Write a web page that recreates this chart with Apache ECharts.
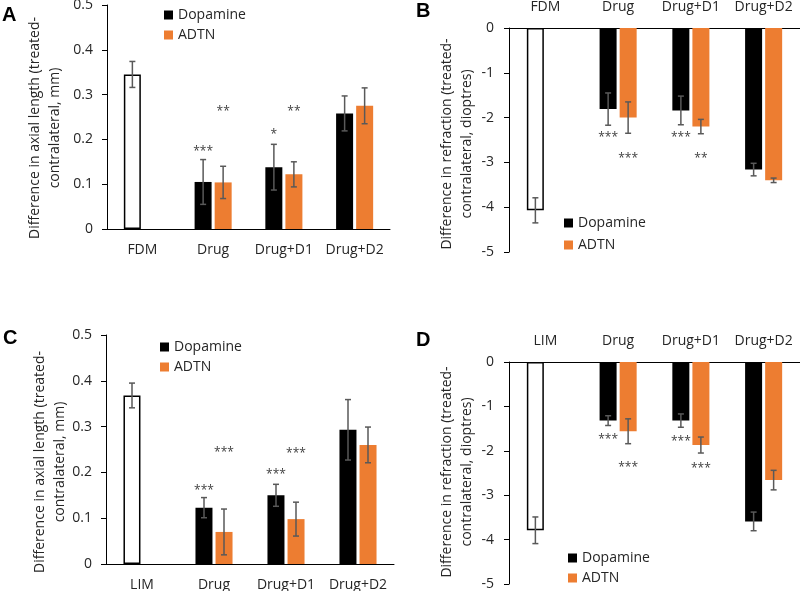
<!DOCTYPE html>
<html>
<head>
<meta charset="utf-8">
<script src="https://cdn.jsdelivr.net/npm/echarts@6/dist/echarts.min.js"></script>
<style>html,body{margin:0;padding:0;background:#fff;}#c{width:800px;height:591px;}</style>
</head>
<body>
<div id="c"></div>
<script>
// ---------- DATA ----------
// First entry of each "dop" array is the control group (FDM / LIM), drawn as a white bar.
const catsA = ['FDM', 'Drug', 'Drug+D1', 'Drug+D2'];
const dopA = [0.345, 0.105, 0.138, 0.258];
const dopErrA = [0.029, 0.050, 0.051, 0.039];
const adtnA = [null, 0.104, 0.122, 0.275];
const adtnErrA = [null, 0.036, 0.028, 0.040];
const dopSigA = ['', '***', '*', ''];
const dopSigAtA = [null, 0.180, 0.217, null];
const adtnSigA = ['', '**', '**', ''];
const adtnSigAtA = [null, 0.268, 0.268, null];

const catsB = ['FDM', 'Drug', 'Drug+D1', 'Drug+D2'];
const dopB = [-4.07, -1.81, -1.84, -3.16];
const dopErrB = [0.28, 0.36, 0.32, 0.14];
const adtnB = [null, -2.00, -2.20, -3.40];
const adtnErrB = [null, 0.35, 0.16, 0.05];
const dopSigB = ['', '***', '***', ''];
const dopSigAtB = [null, -2.39, -2.39, null];
const adtnSigB = ['', '***', '**', ''];
const adtnSigAtB = [null, -2.85, -2.85, null];

const catsC = ['LIM', 'Drug', 'Drug+D1', 'Drug+D2'];
const dopC = [0.368, 0.123, 0.150, 0.293];
const dopErrC = [0.027, 0.022, 0.024, 0.066];
const adtnC = [null, 0.070, 0.098, 0.260];
const adtnErrC = [null, 0.050, 0.037, 0.039];
const dopSigC = ['', '***', '***', ''];
const dopSigAtC = [null, 0.166, 0.201, null];
const adtnSigC = ['', '***', '***', ''];
const adtnSigAtC = [null, 0.250, 0.247, null];

const catsD = ['LIM', 'Drug', 'Drug+D1', 'Drug+D2'];
const dopD = [-3.79, -1.32, -1.32, -3.59];
const dopErrD = [0.30, 0.11, 0.15, 0.21];
const adtnD = [null, -1.56, -1.87, -2.66];
const adtnErrD = [null, 0.28, 0.18, 0.22];
const dopSigD = ['', '***', '***', ''];
const dopSigAtD = [null, -1.68, -1.72, null];
const adtnSigD = ['', '***', '***', ''];
const adtnSigAtD = [null, -2.32, -2.34, null];

const axialTicks = [0, 0.5, 0.1];      // min, max, interval
const refrTicks = [-5, 0, 1];
const axialTitle = 'Difference in axial length (treated-\ncontralateral, mm)';
const refrTitle = 'Difference in refraction (treated-\ncontralateral, dioptres)';

// ---------- STYLE ----------
const FONT = 'Open Sans';
const TXT = '#262626';
const ORANGE = '#ED7D31';
const ERR = '#595959';
const BW = 17, OFF = 10;

const chart = echarts.init(document.getElementById('c'), null, {renderer: 'canvas'});

const panels = [
  {cats: catsA, dop: dopA, dopErr: dopErrA, adtn: adtnA, adtnErr: adtnErrA,
   dSig: dopSigA, dSigAt: dopSigAtA, aSig: adtnSigA, aSigAt: adtnSigAtA, ticks: axialTicks,
   grid: {left: 107, top: 5, width: 283, height: 224}, top: false, lblMargin: 14,
   legend: {left: 164, top: 5, lh: 20}},
  {cats: catsB, dop: dopB, dopErr: dopErrB, adtn: adtnB, adtnErr: adtnErrB,
   dSig: dopSigB, dSigAt: dopSigAtB, aSig: adtnSigB, aSigAt: adtnSigAtB, ticks: refrTicks,
   grid: {left: 509, top: 28, width: 291, height: 224}, top: true, lblMargin: 15,
   legend: {left: 564, top: 212, lh: 22}},
  {cats: catsC, dop: dopC, dopErr: dopErrC, adtn: adtnC, adtnErr: adtnErrC,
   dSig: dopSigC, dSigAt: dopSigAtC, aSig: adtnSigC, aSigAt: adtnSigAtC, ticks: axialTicks,
   grid: {left: 106, top: 335, width: 288, height: 229}, top: false, lblMargin: 14,
   legend: {left: 160, top: 337, lh: 20}},
  {cats: catsD, dop: dopD, dopErr: dopErrD, adtn: adtnD, adtnErr: adtnErrD,
   dSig: dopSigD, dSigAt: dopSigAtD, aSig: adtnSigD, aSigAt: adtnSigAtD, ticks: refrTicks,
   grid: {left: 509, top: 362, width: 291, height: 222}, top: true, lblMargin: 15,
   legend: {left: 568, top: 548, lh: 20}}
];

const grids = [], xAxes = [], yAxes = [], series = [], legends = [];

function errSeries(i, vals, errs, side) {
  const data = [];
  vals.forEach((v, k) => { if (v !== null) data.push([k, v, errs[k]]); });
  return {
    type: 'custom', name: 'err' + i + side, xAxisIndex: i, yAxisIndex: i, z: 5,
    silent: true, data: data,
    renderItem: function (params, api) {
      const k = api.value(0), v = api.value(1), e = api.value(2);
      const x = api.coord([k, v])[0] + side * OFF;
      const y1 = api.coord([k, v + e])[1];
      const y2 = api.coord([k, v - e])[1];
      const st = {stroke: ERR, lineWidth: 1.5};
      return {type: 'group', children: [
        {type: 'line', shape: {x1: x, y1: y1, x2: x, y2: y2}, style: st},
        {type: 'line', shape: {x1: x - 3, y1: y1, x2: x + 3, y2: y1}, style: st},
        {type: 'line', shape: {x1: x - 3, y1: y2, x2: x + 3, y2: y2}, style: st}
      ]};
    }
  };
}

function sigSeries(i, labels, at, side) {
  const data = [];
  labels.forEach((s, k) => { if (s) data.push([k, at[k], s]); });
  return {
    type: 'custom', name: 'sig' + i + side, xAxisIndex: i, yAxisIndex: i, z: 6,
    silent: true, data: data,
    renderItem: function (params, api) {
      const k = api.value(0), v = api.value(1);
      const p = api.coord([k, v]);
      return {type: 'text', x: p[0] + side * OFF, y: p[1] + 3,
        style: {text: labels[k], fill: '#404040', font: '12px "' + FONT + '"',
                textAlign: 'center', textVerticalAlign: 'middle'}};
    }
  };
}

panels.forEach((p, i) => {
  grids.push(Object.assign({containLabel: false, outerBoundsMode: 'none'}, p.grid));
  xAxes.push({
    type: 'category', gridIndex: i, data: p.cats, position: p.top ? 'top' : 'bottom',
    axisLine: {onZero: false, lineStyle: {color: '#000', width: 1}},
    axisTick: {show: false},
    axisLabel: {interval: 0, fontFamily: FONT, fontSize: 14, color: TXT, margin: 14,
                hideOverlap: false}
  });
  yAxes.push({
    type: 'value', gridIndex: i, min: p.ticks[0], max: p.ticks[1], interval: p.ticks[2],
    splitLine: {show: false},
    axisLine: {show: true, lineStyle: {color: '#000', width: 1}},
    axisTick: {show: true, inside: false, length: 5, lineStyle: {color: '#000'}},
    axisLabel: {fontFamily: FONT, fontSize: 14, color: TXT, margin: p.lblMargin}
  });
  const dopData = p.dop.map((v, k) => k === 0
    ? {value: v, itemStyle: {color: '#fff', borderColor: '#000', borderWidth: 1.5}}
    : v);
  series.push({
    type: 'bar', name: 'Dopamine', xAxisIndex: i, yAxisIndex: i, data: dopData,
    barWidth: BW, barGap: '18%', itemStyle: {color: '#000'}, silent: true
  });
  series.push({
    type: 'bar', name: 'ADTN', xAxisIndex: i, yAxisIndex: i,
    data: p.adtn.map(v => v === null ? '-' : v),
    barWidth: BW, barGap: '18%', itemStyle: {color: ORANGE}, silent: true
  });
  series.push(errSeries(i, p.dop, p.dopErr, -1));
  series.push(errSeries(i, p.adtn, p.adtnErr, 1));
  series.push(sigSeries(i, p.dSig, p.dSigAt, -1));
  series.push(sigSeries(i, p.aSig, p.aSigAt, 1));
  legends.push({
    data: ['Dopamine', 'ADTN'], orient: 'vertical', left: p.legend.left, top: p.legend.top,
    padding: 0, itemGap: 0, itemWidth: 9, itemHeight: 9, icon: 'rect', selectedMode: false,
    textStyle: {fontFamily: FONT, fontSize: 14, color: TXT, lineHeight: p.legend.lh}
  });
});

function title(x, y, text) {
  return {type: 'text', x: x, y: y, rotation: Math.PI / 2,
    style: {text: text, font: '14px "' + FONT + '"', fill: TXT, lineHeight: 20,
            textAlign: 'center', textVerticalAlign: 'middle'}};
}
function letter(x, y, t) {
  return {type: 'text', x: x, y: y,
    style: {text: t, font: 'bold 20px "Liberation Sans"', fill: '#000',
            textAlign: 'left', textVerticalAlign: 'middle'}};
}

chart.setOption({
  backgroundColor: '#fff',
  animation: false,
  grid: grids, xAxis: xAxes, yAxis: yAxes, legend: legends, series: series,
  graphic: [
    title(45, 128, axialTitle),
    title(457, 144, refrTitle),
    title(50, 462, axialTitle),
    title(457, 472, refrTitle),
    letter(2, 15, 'A'), letter(416, 11, 'B'), letter(3, 338, 'C'), letter(416, 340, 'D')
  ]
});
</script>
</body>
</html>
